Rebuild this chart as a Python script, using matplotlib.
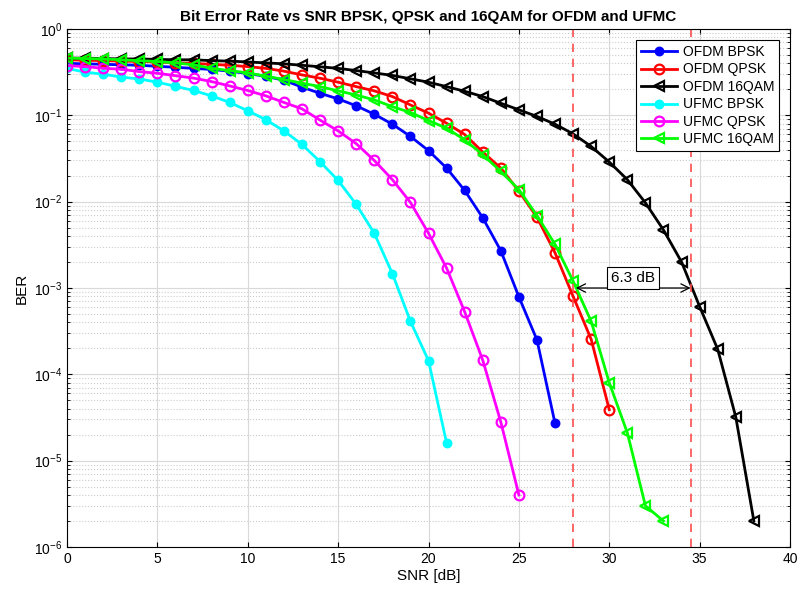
import numpy as np
import matplotlib
matplotlib.use('Agg')
import matplotlib.pyplot as plt

plt.rcParams['font.family'] = ['Liberation Sans', 'DejaVu Sans']
plt.rcParams['mathtext.default'] = 'regular'

# BER 曲線の値 (SNR は 0 dB から 1 dB 刻み)
ofdm_bpsk = [0.40, 0.395, 0.39, 0.385, 0.38, 0.37, 0.36, 0.35, 0.34, 0.325,
             0.305, 0.283, 0.255, 0.212, 0.18, 0.155, 0.129, 0.103, 0.079, 0.057,
             0.039, 0.0245, 0.0135, 6.5e-3, 2.7e-3, 7.9e-4, 2.5e-4, 2.7e-5]
ofdm_qpsk = [0.44, 0.435, 0.43, 0.425, 0.42, 0.415, 0.405, 0.40, 0.39, 0.38,
             0.367, 0.35, 0.325, 0.294, 0.269, 0.242, 0.215, 0.192, 0.165, 0.132,
             0.106, 0.081, 0.060, 0.0376, 0.0245, 0.0132, 6.6e-3, 2.55e-3, 8.0e-4, 2.54e-4,
             3.9e-5]
ofdm_16qam = [0.46, 0.46, 0.455, 0.45, 0.45, 0.445, 0.44, 0.44, 0.43, 0.425,
              0.415, 0.405, 0.395, 0.38, 0.365, 0.35, 0.33, 0.31, 0.29, 0.265,
              0.242, 0.215, 0.19, 0.165, 0.138, 0.116, 0.097, 0.079, 0.061, 0.0436,
              0.0288, 0.018, 9.7e-3, 4.7e-3, 2.0e-3, 6.1e-4, 1.95e-4, 3.2e-5, 2.0e-6]
ufmc_bpsk = [0.35, 0.316, 0.30, 0.277, 0.264, 0.242, 0.217, 0.194, 0.168, 0.141,
             0.113, 0.089, 0.066, 0.046, 0.029, 0.0176, 9.3e-3, 4.3e-3, 1.47e-3, 4.1e-4,
             1.44e-4, 1.6e-5]
ufmc_qpsk = [0.377, 0.367, 0.351, 0.342, 0.321, 0.307, 0.288, 0.27, 0.246, 0.219,
             0.194, 0.168, 0.141, 0.119, 0.088, 0.066, 0.047, 0.03, 0.018, 9.8e-3,
             4.3e-3, 1.7e-3, 5.3e-4, 1.46e-4, 2.8e-5, 4.0e-6]
ufmc_16qam = [0.46, 0.455, 0.45, 0.44, 0.43, 0.42, 0.405, 0.385, 0.35, 0.33,
              0.31, 0.285, 0.26, 0.236, 0.215, 0.192, 0.172, 0.151, 0.126, 0.108,
              0.087, 0.071, 0.052, 0.035, 0.0224, 0.0138, 6.9e-3, 3.2e-3, 1.2e-3, 4.1e-4,
              8.0e-5, 2.1e-5, 3.0e-6, 2.0e-6]

labels = ['OFDM BPSK', 'OFDM QPSK', 'OFDM 16QAM', 'UFMC BPSK', 'UFMC QPSK', 'UFMC 16QAM']

# 1e-3 での差
snr_left = 28.0
snr_right = 34.5
ber_ref = 1e-3
gap_text = '6.3 dB'

fig = plt.figure(figsize=(7.98, 5.92), dpi=100)
ax = fig.add_axes([0.084, 0.076, 0.906, 0.875])

series = [
    (ofdm_bpsk, '#0000ff', 'o', '#0000ff', 5.5),
    (ofdm_qpsk, '#ff0000', 'o', 'none', 7),
    (ofdm_16qam, '#000000', '<', 'none', 7.5),
    (ufmc_bpsk, '#00ffff', 'o', '#00ffff', 5.5),
    (ufmc_qpsk, '#ff00ff', 'o', 'none', 7),
    (ufmc_16qam, '#00ff00', '<', 'none', 7.5),
]
for (vals, col, mk, mfc, ms), lab in zip(series, labels):
    snr = np.arange(len(vals))
    ax.semilogy(snr, vals, color=col, marker=mk, markerfacecolor=mfc,
                markeredgecolor=col, markersize=ms, markeredgewidth=1.6,
                linewidth=2, label=lab)

ax.axvline(snr_left, color='#ff4d4d', linestyle=(0, (5, 4)), linewidth=1.2)
ax.axvline(snr_right, color='#ff4d4d', linestyle=(0, (5, 4)), linewidth=1.2)

ax.annotate('', xy=(snr_left + 0.15, ber_ref), xytext=(snr_right, ber_ref),
            arrowprops=dict(arrowstyle='<->,head_length=0.6,head_width=0.3',
                            color='k', lw=0.9, shrinkA=0, shrinkB=0))
ax.text(30.1, 1.08e-3, gap_text, fontsize=11, ha='left', va='bottom',
        bbox=dict(boxstyle='square,pad=0.25', fc='white', ec='k', lw=0.8))

ax.set_xlim(0, 40)
ax.set_ylim(1e-6, 1)
ax.set_xticks(np.arange(0, 41, 5))
ax.grid(True, which='major', color='#d9d9d9', linewidth=0.8)
ax.grid(True, which='minor', color='#cccccc', linestyle=':', linewidth=0.8)
ax.tick_params(which='both', direction='in', top=True, right=True, labelsize=10)
for s in ax.spines.values():
    s.set_linewidth(0.8)

ax.set_xlabel('SNR [dB]', fontsize=11, labelpad=2)
ax.set_ylabel('BER', fontsize=11)
ax.set_title('Bit Error Rate vs SNR BPSK, QPSK and 16QAM for OFDM and UFMC',
             fontsize=11, fontweight='bold')

leg = ax.legend(loc='upper right', fontsize=10, fancybox=False, framealpha=1,
                edgecolor='k', borderpad=0.35, labelspacing=0.25, handlelength=2.6,
                handletextpad=0.4, borderaxespad=0.8)
leg.get_frame().set_linewidth(0.8)

fig.savefig('out.png', dpi=100)
